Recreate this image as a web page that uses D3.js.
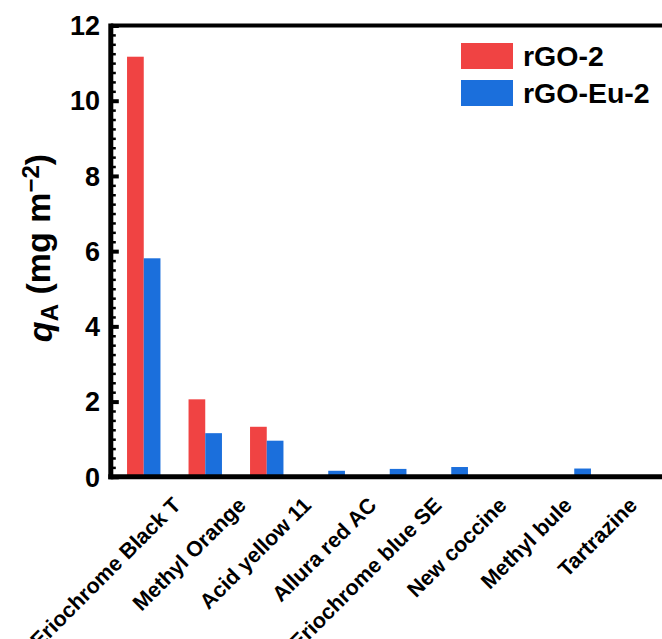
<!DOCTYPE html>
<html>
<head>
<meta charset="utf-8">
<script src="https://cdn.jsdelivr.net/npm/d3@7"></script>
<style>
  html, body { margin: 0; padding: 0; background: #fff; }
  svg { display: block; }
  text { font-family: "Liberation Sans", Arial, sans-serif; font-weight: bold; fill: #000; }
</style>
</head>
<body>
<svg id="chart" width="662" height="639"></svg>
<script>
// Dye names along the x axis
const categories = ["Eriochrome Black T", "Methyl Orange", "Acid yellow 11", "Allura red AC",
                    "Eriochrome blue SE", "New coccine", "Methyl bule", "Tartrazine"];
// Adsorption capacity q_A (mg m^-2) for each adsorbent
const seriesNames = ["rGO-2", "rGO-Eu-2"];
const rGO2   = [11.17, 2.06, 1.33, 0.04, 0, 0, 0, 0];
const rGOEu2 = [5.81, 1.16, 0.96, 0.16, 0.21, 0.26, 0, 0.22];
const colors = ["#f04343", "#1b6fdc"];
const yTicks = [0, 2, 4, 6, 8, 10, 12];

(function draw() {
  const svg = d3.select("#chart");

  const plotLeft = 110.8, plotRight = 700, plotTop = 25.5, plotBottom = 476.8;

  const y = d3.scaleLinear().domain([0, 12]).range([plotBottom, plotTop]);
  const x0 = d3.scaleBand().domain(categories).range([113, 605]).paddingInner(0).paddingOuter(0);
  const x1 = d3.scaleBand().domain(seriesNames).range([0, x0.bandwidth()]).paddingInner(0).paddingOuter(0.84);
  // label anchors follow their own spacing along the axis
  const xLabel = d3.scalePoint().domain(categories).range([182, 638.5]);

  const rows = categories.map((c, i) => ({ cat: c, values: [rGO2[i], rGOEu2[i]] }));

  // bars
  const groups = svg.append("g").selectAll("g").data(rows).join("g")
    .attr("transform", d => `translate(${x0(d.cat)},0)`);
  groups.selectAll("rect")
    .data(d => d.values.map((v, k) => ({ name: seriesNames[k], v, k })))
    .join("rect")
    .attr("x", d => x1(d.name))
    .attr("width", x1.bandwidth())
    .attr("y", d => y(d.v))
    .attr("height", d => y(0) - y(d.v))
    .attr("fill", d => colors[d.k]);

  // frame: top border and bottom axis
  svg.append("line").attr("x1", plotLeft).attr("x2", plotRight).attr("y1", plotTop).attr("y2", plotTop)
    .attr("stroke", "#000").attr("stroke-width", 4);
  svg.append("line").attr("x1", plotLeft - 2.5).attr("x2", plotRight).attr("y1", plotBottom).attr("y2", plotBottom)
    .attr("stroke", "#000").attr("stroke-width", 5);

  // y axis with inward major and minor ticks
  const yAxis = d3.axisRight(y).tickValues(yTicks).tickSize(8).tickFormat("");
  const gY = svg.append("g").attr("transform", `translate(${plotLeft},0)`).call(yAxis);
  gY.select(".domain").remove();
  gY.selectAll(".tick line").attr("stroke", "#000").attr("stroke-width", 4);
  const minor = d3.range(0, 12.001, 0.25).filter(v => Math.abs(v / 2 - Math.round(v / 2)) > 1e-6);
  const yMinor = d3.axisRight(y).tickValues(minor).tickSize(5).tickFormat("");
  const gYm = svg.append("g").attr("transform", `translate(${plotLeft},0)`).call(yMinor);
  gYm.select(".domain").remove();
  gYm.selectAll(".tick line").attr("stroke", "#000").attr("stroke-width", 2.5);
  svg.append("line").attr("x1", plotLeft).attr("x2", plotLeft).attr("y1", plotTop - 2).attr("y2", plotBottom + 2.5)
    .attr("stroke", "#000").attr("stroke-width", 5);

  // y tick labels
  svg.append("g").selectAll("text").data(yTicks).join("text")
    .attr("x", 100).attr("y", d => y(d))
    .attr("dy", "0.36em")
    .attr("text-anchor", "end")
    .style("font-size", "27px")
    .text(d => d);

  // x category labels, rotated 45 degrees
  svg.append("g").selectAll("text").data(categories).join("text")
    .attr("text-anchor", "end")
    .attr("transform", d => `translate(${xLabel(d)},506.5) rotate(-45)`)
    .style("font-size", "21.5px")
    .text(d => d);

  // y axis title: q_A (mg m^-2)
  const yt = svg.append("text")
    .attr("transform", "translate(52,248) rotate(-90)")
    .attr("text-anchor", "middle")
    .style("font-size", "34px");
  yt.append("tspan").style("font-style", "italic").text("q");
  yt.append("tspan").attr("dy", "0.25em").style("font-size", "24px").text("A");
  yt.append("tspan").attr("dy", "-0.25em").text(" (mg m");
  yt.append("tspan").attr("dy", "-0.45em").style("font-size", "24px").text("\u22122");
  yt.append("tspan").attr("dy", "0.3em").text(")");

  // legend
  const legend = svg.append("g").selectAll("g").data(seriesNames).join("g")
    .attr("transform", (d, i) => `translate(461,${43 + i * 37})`);
  legend.append("rect").attr("width", 52).attr("height", 26).attr("fill", (d, i) => colors[i]);
  legend.append("text").attr("x", 62).attr("y", 13).attr("dy", "0.36em")
    .style("font-size", "28.5px").text(d => d);
})();
</script>
</body>
</html>
